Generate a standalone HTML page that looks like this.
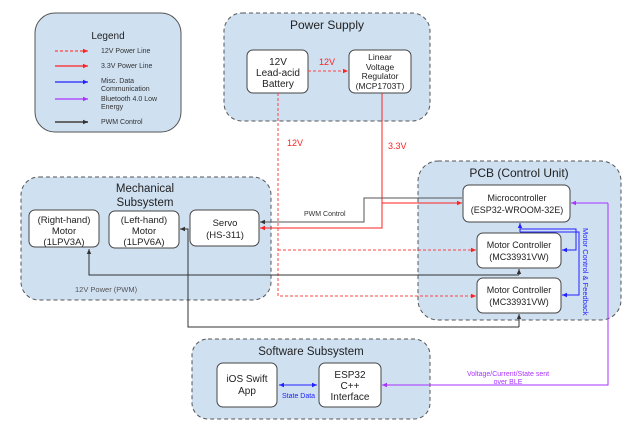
<!DOCTYPE html>
<html><head><meta charset="utf-8"><style>
html,body{margin:0;padding:0;background:#fff;}
svg{display:block;font-family:"Liberation Sans",Arial,sans-serif;}
</style></head><body>
<svg width="635" height="430" viewBox="0 0 635 430" xmlns="http://www.w3.org/2000/svg">
<defs>
<marker id="ak" markerWidth="6" markerHeight="6" refX="5" refY="3" orient="auto" markerUnits="userSpaceOnUse"><path d="M0,0.8 L5,3 L0,5.2z" fill="#333"/></marker>
<marker id="ar" markerWidth="6" markerHeight="6" refX="5" refY="3" orient="auto" markerUnits="userSpaceOnUse"><path d="M0,0.8 L5,3 L0,5.2z" fill="#f22"/></marker>
<marker id="ab" markerWidth="6" markerHeight="6" refX="5" refY="3" orient="auto" markerUnits="userSpaceOnUse"><path d="M0,0.8 L5,3 L0,5.2z" fill="#22f"/></marker>
<marker id="ap" markerWidth="6" markerHeight="6" refX="5" refY="3" orient="auto" markerUnits="userSpaceOnUse"><path d="M0,0.8 L5,3 L0,5.2z" fill="#a3f"/></marker>
<marker id="abs" markerWidth="6" markerHeight="6" refX="0" refY="3" orient="auto" markerUnits="userSpaceOnUse"><path d="M5,0.8 L0,3 L5,5.2z" fill="#22f"/></marker>
</defs>
<g fill="#cfe0f1" stroke="#555" stroke-width="1">
<rect x="35" y="13" width="146" height="119" rx="20"/>
<rect x="224" y="13" width="206" height="108" rx="18" stroke-dasharray="4,3"/>
<rect x="21" y="177" width="250" height="123" rx="18" stroke-dasharray="4,3"/>
<rect x="418" y="161" width="203" height="159" rx="20" stroke-dasharray="4,3"/>
<rect x="192" y="339" width="238" height="80" rx="16" stroke-dasharray="4,3"/>
</g>
<g fill="#fff" stroke="#444" stroke-width="1">
<rect x="247" y="50" width="61" height="43" rx="6"/>
<rect x="349" y="50" width="62" height="43" rx="6"/>
<rect x="29" y="210" width="70" height="37" rx="6"/>
<rect x="109" y="211" width="70" height="37" rx="6"/>
<rect x="190" y="210" width="69" height="36" rx="6"/>
<rect x="463" y="185" width="107" height="37" rx="6"/>
<rect x="477" y="233" width="84" height="35" rx="6"/>
<rect x="477" y="278" width="84" height="35" rx="6"/>
<rect x="217" y="363" width="60" height="44" rx="6"/>
<rect x="319" y="363" width="62" height="44" rx="6"/>
</g>
<g stroke-width="1.2" fill="none">
<line x1="55" y1="51" x2="88" y2="51" stroke="#f44" stroke-dasharray="3,2" marker-end="url(#ar)"/>
<line x1="55" y1="66" x2="88" y2="66" stroke="#f22" marker-end="url(#ar)"/>
<line x1="55" y1="82" x2="88" y2="82" stroke="#22f" marker-end="url(#ab)"/>
<line x1="55" y1="99" x2="88" y2="99" stroke="#a3f" marker-end="url(#ap)"/>
<line x1="55" y1="122" x2="88" y2="122" stroke="#666" stroke-width="2" marker-end="url(#ak)"/>
</g>
<g fill="none" stroke-width="1">
<line x1="308" y1="71" x2="348" y2="71" stroke="#f44" stroke-dasharray="3,2" marker-end="url(#ar)"/>
<polyline points="278,93 278,296 476,296" stroke="#f44" stroke-dasharray="3,2" marker-end="url(#ar)"/>
<line x1="278" y1="250" x2="476" y2="250" stroke="#f44" stroke-dasharray="3,2" marker-end="url(#ar)"/>
<polyline points="382,93 382,228 260,228" stroke="#f22" marker-end="url(#ar)"/>
<line x1="382" y1="203" x2="462" y2="203" stroke="#f22" marker-end="url(#ar)"/>
<polyline points="462,198 364,198 364,222 260,222" stroke="#555" marker-end="url(#ak)"/>
<polyline points="519,275 89,275 89,249" stroke="#333" marker-end="url(#ak)"/>
<polyline points="519,327 188,327 188,229 180,229" stroke="#333" marker-end="url(#ak)"/>
<line x1="519" y1="327" x2="519" y2="314" stroke="#333" marker-end="url(#ak)"/>
<line x1="519" y1="275" x2="519" y2="269" stroke="#333" marker-end="url(#ak)"/>
<polyline points="520,229 576,229 576,250 562,250" stroke="#22f" marker-end="url(#ab)"/>
<polyline points="520,232 579,232 579,295 562,295" stroke="#22f" marker-end="url(#ab)"/>
<line x1="520" y1="232" x2="520" y2="223" stroke="#22f" marker-end="url(#ab)"/>
<polyline points="608,203 608,385 382,385" stroke="#a3f" marker-end="url(#ap)"/>
<line x1="608" y1="203" x2="571" y2="203" stroke="#a3f" marker-end="url(#ap)"/>
<line x1="279" y1="385" x2="317" y2="385" stroke="#22f" marker-start="url(#abs)" marker-end="url(#ab)"/>
</g>
<g fill="#222" text-anchor="middle">
<text x="108" y="39" font-size="10">Legend</text>
<text x="327" y="29" font-size="12">Power Supply</text>
<text x="145" y="192" font-size="11.5">Mechanical</text>
<text x="145" y="206" font-size="11.5">Subsystem</text>
<text x="519" y="177" font-size="12">PCB (Control Unit)</text>
<text x="311" y="355" font-size="11.5">Software Subsystem</text>
<g font-size="10">
<text x="278" y="65">12V</text><text x="278" y="76">Lead-acid</text><text x="278" y="87">Battery</text>
<text x="380" y="60" font-size="8.5">Linear</text><text x="380" y="70" font-size="8.5">Voltage</text><text x="380" y="79" font-size="8.5">Regulator</text><text x="380" y="89" font-size="8.5">(MCP1703T)</text>
<text x="64" y="223" font-size="9.5">(Right-hand)</text><text x="64" y="234" font-size="9.5">Motor</text><text x="64" y="245" font-size="9.5">(1LPV3A)</text>
<text x="144" y="223" font-size="9.5">(Left-hand)</text><text x="144" y="234" font-size="9.5">Motor</text><text x="144" y="245" font-size="9.5">(1LPV6A)</text>
<text x="225" y="226" font-size="9.5">Servo</text><text x="225" y="238" font-size="9.5">(HS-311)</text>
<text x="517" y="201" font-size="9">Microcontroller</text><text x="517" y="213" font-size="9">(ESP32-WROOM-32E)</text>
<text x="519" y="248" font-size="9">Motor Controller</text><text x="519" y="260" font-size="9">(MC33931VW)</text>
<text x="519" y="293" font-size="9">Motor Controller</text><text x="519" y="305" font-size="9">(MC33931VW)</text>
<text x="247" y="382">iOS Swift</text><text x="247" y="394">App</text>
<text x="350" y="378">ESP32</text><text x="350" y="389">C++</text><text x="350" y="400">Interface</text>
</g>
</g>
<g font-size="7" fill="#333">
<text x="101" y="53">12V Power Line</text>
<text x="101" y="68">3.3V Power Line</text>
<text x="101" y="83">Misc. Data</text><text x="101" y="91">Communication</text>
<text x="101" y="101">Bluetooth 4.0 Low</text><text x="101" y="109">Energy</text>
<text x="101" y="124">PWM Control</text>
<text x="304" y="216">PWM Control</text>
<text x="75" y="292" fill="#555" font-size="7.5">12V Power (PWM)</text>
</g>
<g fill="#f22" font-size="9">
<text x="319" y="65">12V</text>
<text x="287" y="146">12V</text>
<text x="388" y="149">3.3V</text>
</g>
<text x="282" y="398" font-size="7" fill="#22f">State Data</text>
<g fill="#a3f" font-size="7" text-anchor="middle">
<text x="508" y="376">Voltage/Current/State sent</text>
<text x="508" y="384">over BLE</text>
</g>
<text transform="translate(583,228) rotate(90)" font-size="7.5" fill="#22f">Motor Control &amp; Feedback</text>
</svg>
</body></html>
